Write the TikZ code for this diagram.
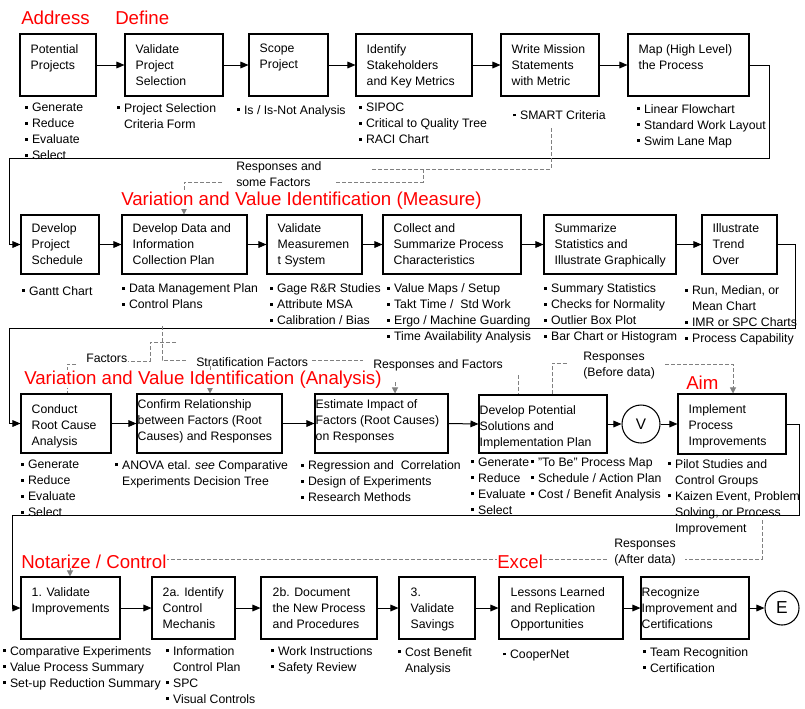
\documentclass[tikz,border=0pt]{standalone}
\usepackage{fontspec}
\setmainfont{Liberation Sans}
\usetikzlibrary{arrows.meta,fit}
\newcommand{\itm}{\rule[2.4pt]{2.1pt}{2.1pt}\hspace{3.4pt}}
\newcommand{\cnt}{\hspace*{5.5pt}}
\tikzset{
  stepbox/.style={draw, line width=0.8pt, inner sep=0pt},
  circ/.style={draw, circle, line width=0.8pt, inner sep=0pt},
  boxtxt/.style={anchor=north west, inner sep=0pt, align=left, yshift=-1.9pt,
    font=\fontsize{9.2}{12}\selectfont, execute at begin node=\strut},
  title/.style={anchor=base west, inner sep=0pt, fill=white, text=red,
    font=\fontsize{14}{17}\selectfont},
  flow/.style={line width=0.75pt, -{Triangle[length=6pt,width=5pt]}},
  fb/.style={draw=gray, line width=0.75pt, dash pattern=on 3pt off 1.5pt},
  fbarrow/.style={fb, -{Triangle[length=4.5pt,width=4.5pt]}, gray}
}
\begin{document}
\begin{tikzpicture}[x=0.75pt,y=-0.75pt]
    \fill[white] (0,0) rectangle (805,708);
    \useasboundingbox (0,0) rectangle (805,708);

    % Row 1 : Address / Define
    \node[stepbox, fit={(20,34) (96,96)}] (pp) {};
    \node[stepbox, fit={(125,34) (223,96)}] (vps) {};
    \node[stepbox, fit={(249,34) (328,96)}] (scope) {};
    \node[stepbox, fit={(356,34) (472,96)}] (stake) {};
    \node[stepbox, fit={(501,34) (599,96)}] (mission) {};
    \node[stepbox, fit={(628,34) (749,96)}] (map) {};

    \node[boxtxt] at ([shift={(11,8)}]pp.north west) {Potential\\Projects};
    \node[boxtxt] at ([shift={(11,8)}]vps.north west) {Validate\\Project\\Selection};
    \node[boxtxt] at ([shift={(11,8)}]scope.north west) {Scope\\Project};
    \node[boxtxt] at ([shift={(11,8)}]stake.north west) {Identify\\Stakeholders\\and Key Metrics};
    \node[boxtxt] at ([shift={(11,8)}]mission.north west) {Write Mission\\Statements\\with Metric};
    \node[boxtxt] at ([shift={(11,8)}]map.north west) {Map (High Level)\\the Process};

    \node[boxtxt] (pp-b) at ([shift={(5,4)}]pp.south west) {\itm Generate\\\itm Reduce\\\itm Evaluate\\\itm Select};
    \node[boxtxt] (vps-b) at ([shift={(-8,4)}]vps.south west) {\itm Project Selection\\\cnt Criteria Form};
    \node[boxtxt] (scope-b) at ([shift={(-12,3.5)}]scope.south west) {\itm Is / Is-Not Analysis};
    \node[boxtxt] (stake-b) at ([shift={(3,4)}]stake.south west) {\itm SIPOC\\\itm Critical to Quality Tree\\\itm RACI Chart};
    \node[boxtxt] (mission-b) at ([shift={(12,9)}]mission.south west) {\itm SMART Criteria};
    \node[boxtxt] (map-b) at ([shift={(9,5)}]map.south west) {\itm Linear Flowchart\\\itm Standard Work Layout\\\itm Swim Lane Map};

    % Row 2 : Measure
    \node[stepbox, fit={(21,215) (99,274)}] (sched) {};
    \node[stepbox, fit={(122,215) (247,274)}] (dcp) {};
    \node[stepbox, fit={(267,215) (362,274)}] (msa) {};
    \node[stepbox, fit={(383,215) (521,274)}] (collect) {};
    \node[stepbox, fit={(544,215) (676,274)}] (stats) {};
    \node[stepbox, fit={(702,215) (777,274)}] (trend) {};

    \node[boxtxt] at ([shift={(11,6.5)}]sched.north west) {Develop\\Project\\Schedule};
    \node[boxtxt] at ([shift={(11,6.5)}]dcp.north west) {Develop Data and\\Information\\Collection Plan};
    \node[boxtxt] at ([shift={(11,6.5)}]msa.north west) {Validate\\Measuremen\\t System};
    \node[boxtxt] at ([shift={(11,6.5)}]collect.north west) {Collect and\\Summarize Process\\Characteristics};
    \node[boxtxt] at ([shift={(11,6.5)}]stats.north west) {Summarize\\Statistics and\\Illustrate Graphically};
    \node[boxtxt] at ([shift={(11,6.5)}]trend.north west) {Illustrate\\Trend\\Over};

    \node[boxtxt] (sched-b) at ([shift={(1,6.5)}]sched.south west) {\itm Gantt Chart};
    \node[boxtxt] (dcp-b) at ([shift={(0,6.5)}]dcp.south west) {\itm Data Management Plan\\\itm Control Plans};
    \node[boxtxt] (msa-b) at ([shift={(3,6.5)}]msa.south west) {\itm Gage R\&R Studies\\\itm Attribute MSA\\\itm Calibration / Bias};
    \node[boxtxt] (collect-b) at ([shift={(4,6.5)}]collect.south west) {\itm Value Maps / Setup\\\itm Takt Time / \ Std Work\\\itm Ergo / Machine Guarding\\\itm Time Availability Analysis};
    \node[boxtxt] (stats-b) at ([shift={(0,6.5)}]stats.south west) {\itm Summary Statistics\\\itm Checks for Normality\\\itm Outlier Box Plot\\\itm Bar Chart or Histogram};
    \node[boxtxt] (trend-b) at ([shift={(-17,8.5)}]trend.south west) {\itm Run, Median, or\\\cnt Mean Chart\\\itm IMR or SPC Charts\\\itm Process Capability};

    % Row 3 : Analysis / Aim
    \node[stepbox, fit={(21,394) (111,453)}] (rca) {};
    \node[stepbox, fit={(137,394) (282,453)}] (confirm) {};
    \node[stepbox, fit={(315,394) (448,453)}] (impact) {};
    \node[stepbox, fit={(479,395) (607,453)}] (sol) {};
    \node[circ, minimum size=28.5pt, font=\fontsize{11.5}{12}\selectfont] (V) at (641,424) {V};
    \node[stepbox, fit={(678,394) (786,454)}] (impl) {};

    \node[boxtxt] at ([shift={(11,8)}]rca.north west) {Conduct\\Root Cause\\Analysis};
    \node[boxtxt] at ([shift={(1,3)}]confirm.north west) {Confirm Relationship\\between Factors (Root\\Causes) and Responses};
    \node[boxtxt] at ([shift={(1,3)}]impact.north west) {Estimate Impact of\\Factors (Root Causes)\\on Responses};
    \node[boxtxt] at ([shift={(1,8)}]sol.north west) {Develop Potential\\Solutions and\\Implementation Plan};
    \node[boxtxt] at ([shift={(11,8)}]impl.north west) {Implement\\Process\\Improvements};

    \node[boxtxt] (rca-b) at ([shift={(0,4)}]rca.south west) {\itm Generate\\\itm Reduce\\\itm Evaluate\\\itm Select};
    \node[boxtxt] (confirm-b) at ([shift={(-22,4)}]confirm.south west) {\itm ANOVA etal. \textit{see} Comparative\\\cnt Experiments Decision Tree};
    \node[boxtxt] (impact-b) at ([shift={(-14,4.5)}]impact.south west) {\itm Regression and \ Correlation\\\itm Design of Experiments\\\itm Research Methods};
    \node[boxtxt] (sol-b) at ([shift={(-8,1.5)}]sol.south west) {\itm Generate\\\itm Reduce\\\itm Evaluate\\\itm Select};
    \node[boxtxt] (sol-c) at ([shift={(52,1.5)}]sol.south west) {\itm "To Be" Process Map\\\itm Schedule / Action Plan\\\itm Cost / Benefit Analysis};
    \node[boxtxt] (impl-b) at ([shift={(-10,2)}]impl.south west) {\itm Pilot Studies and\\\cnt Control Groups\\\itm Kaizen Event, Problem\\\cnt Solving, or Process\\\cnt Improvement};

    % Row 4 : Notarize / Control / Excel
    \node[stepbox, fit={(21,577) (120,639)}] (valimp) {};
    \node[stepbox, fit={(152,577) (235,639)}] (ctrl) {};
    \node[stepbox, fit={(261,577) (377,639)}] (doc) {};
    \node[stepbox, fit={(399,577) (475,639)}] (sav) {};
    \node[stepbox, fit={(499,577) (623,639)}] (lessons) {};
    \node[stepbox, fit={(641,577) (749,639)}] (recog) {};
    \node[circ, minimum size=25.5pt, font=\fontsize{13}{14}\selectfont] (E) at (782,608) {E};

    \node[boxtxt] at ([shift={(11,8.5)}]valimp.north west) {1. Validate\\Improvements};
    \node[boxtxt] at ([shift={(11,8.5)}]ctrl.north west) {2a. Identify\\Control\\Mechanis};
    \node[boxtxt] at ([shift={(12,8.5)}]doc.north west) {2b. Document\\the New Process\\and Procedures};
    \node[boxtxt] at ([shift={(12,8.5)}]sav.north west) {3.\\Validate\\Savings};
    \node[boxtxt] at ([shift={(12,8.5)}]lessons.north west) {Lessons Learned\\and Replication\\Opportunities};
    \node[boxtxt] at ([shift={(1,8)}]recog.north west) {Recognize\\Improvement and\\Certifications};

    \node[boxtxt] (valimp-b) at ([shift={(-18,4)}]valimp.south west) {\itm Comparative Experiments\\\itm Value Process Summary\\\itm Set-up Reduction Summary};
    \node[boxtxt] (ctrl-b) at ([shift={(14,4)}]ctrl.south west) {\itm Information\\\cnt Control Plan\\\itm SPC\\\itm Visual Controls};
    \node[boxtxt] (doc-b) at ([shift={(10,4)}]doc.south west) {\itm Work Instructions\\\itm Safety Review};
    \node[boxtxt] (sav-b) at ([shift={(-1,5)}]sav.south west) {\itm Cost Benefit\\\cnt Analysis};
    \node[boxtxt] (lessons-b) at ([shift={(4,5)}]lessons.south west) {\itm CooperNet};
    \node[boxtxt] (recog-b) at ([shift={(2,5)}]recog.south west) {\itm Team Recognition\\\itm Certification};

    % main flow
    \draw[flow] (pp.east) -- (vps.west);
    \draw[flow] (vps.east) -- (scope.west);
    \draw[flow] (scope.east) -- (stake.west);
    \draw[flow] (stake.east) -- (mission.west);
    \draw[flow] (mission.east) -- (map.west);
    \draw[flow] (map.east) -- ++(20,0) |- (9,158) |- (sched.west);
    \draw[flow] (sched.east) -- (dcp.west);
    \draw[flow] (dcp.east) -- (msa.west);
    \draw[flow] (msa.east) -- (collect.west);
    \draw[flow] (collect.east) -- (stats.west);
    \draw[flow] (stats.east) -- (trend.west);
    \draw[flow] (trend.east) -- ++(18,0) |- (9,328) |- (rca.west);
    \draw[flow] (rca.east) -- (confirm.west);
    \draw[flow] (confirm.east) -- (impact.west);
    \draw[flow] (impact.east) -- (sol.west);
    \draw[flow] (sol.east) -- (V.west);
    \draw[flow] (V.east) -- (impl.west);
    \draw[flow] (impl.east) -- ++(13,0) |- (12,515) |- (valimp.west);
    \draw[flow] (valimp.east) -- (ctrl.west);
    \draw[flow] (ctrl.east) -- (doc.west);
    \draw[flow] (doc.east) -- (sav.west);
    \draw[flow] (sav.east) -- (lessons.west);
    \draw[flow] (lessons.east) -- (recog.west);
    \draw[flow] (recog.east) -- (E.west);

    % data feedback (dashed)
    \node[boxtxt] (rsf) at (236,158.8) {Responses and\\some Factors};
    \node[boxtxt] (fac) at (86,348.8) {Factors};
    \node[boxtxt] (strat) at (196,352) {Stratification Factors};
    \node[boxtxt] (raf) at (373,354) {Responses and Factors};
    \node[boxtxt] (rbd) at (583,349.5) {Responses\\(Before data)};
    \node[boxtxt] (rad) at (614,536) {Responses\\(After data)};

    \draw[fb] (551,128) -- (551,169) -- (370,169);
    \draw[fb] (423,169) -- (423,182) -- (334,182);
    \draw[fbarrow] (222,182) -- (184,182) -- (184,0 |- dcp.north);
    \draw[fb] (162,326) -- (162,360) -- (188,360);
    \draw[fb] (176,342) -- (150,342) -- (150,361) -- (128,361);
    \draw[fb] (76,364) -- (67,364) -- (67,0 |- rca.north);
    \draw[fbarrow] (210,366) -- (210,0 |- confirm.north);
    \draw[fb] (312,360) -- (363,360);
    \draw[fbarrow] (395,382) -- (395,0 |- impact.north);
    \draw[fb] (518,375) -- (518,0 |- sol.north);
    \draw[fb] (552,0 |- sol.north) -- (552,363) -- (568,363);
    \draw[fbarrow] (665,364) -- (733,364) -- (733,0 |- impl.north);
    \draw[fb] (762,520) -- (762,559) -- (685,559);
    \draw[fbarrow] (607,559) -- (70,559) -- (70,0 |- valimp.north);

    % phase titles
    \node[title] (address) at (21,24) {Address};
    \node[title] (define) at (115,24) {Define};
    \node[title] (measure) at (121,205) {Variation and Value Identification (Measure)};
    \node[title] (analysis) at (24,384) {Variation and Value Identification (Analysis)};
    \node[title] (aim) at (686,389) {Aim};
    \node[title] (notarize) at (21,568) {Notarize / Control};
    \node[title] (excel) at (497,568) {Excel};
\end{tikzpicture}
\end{document}
